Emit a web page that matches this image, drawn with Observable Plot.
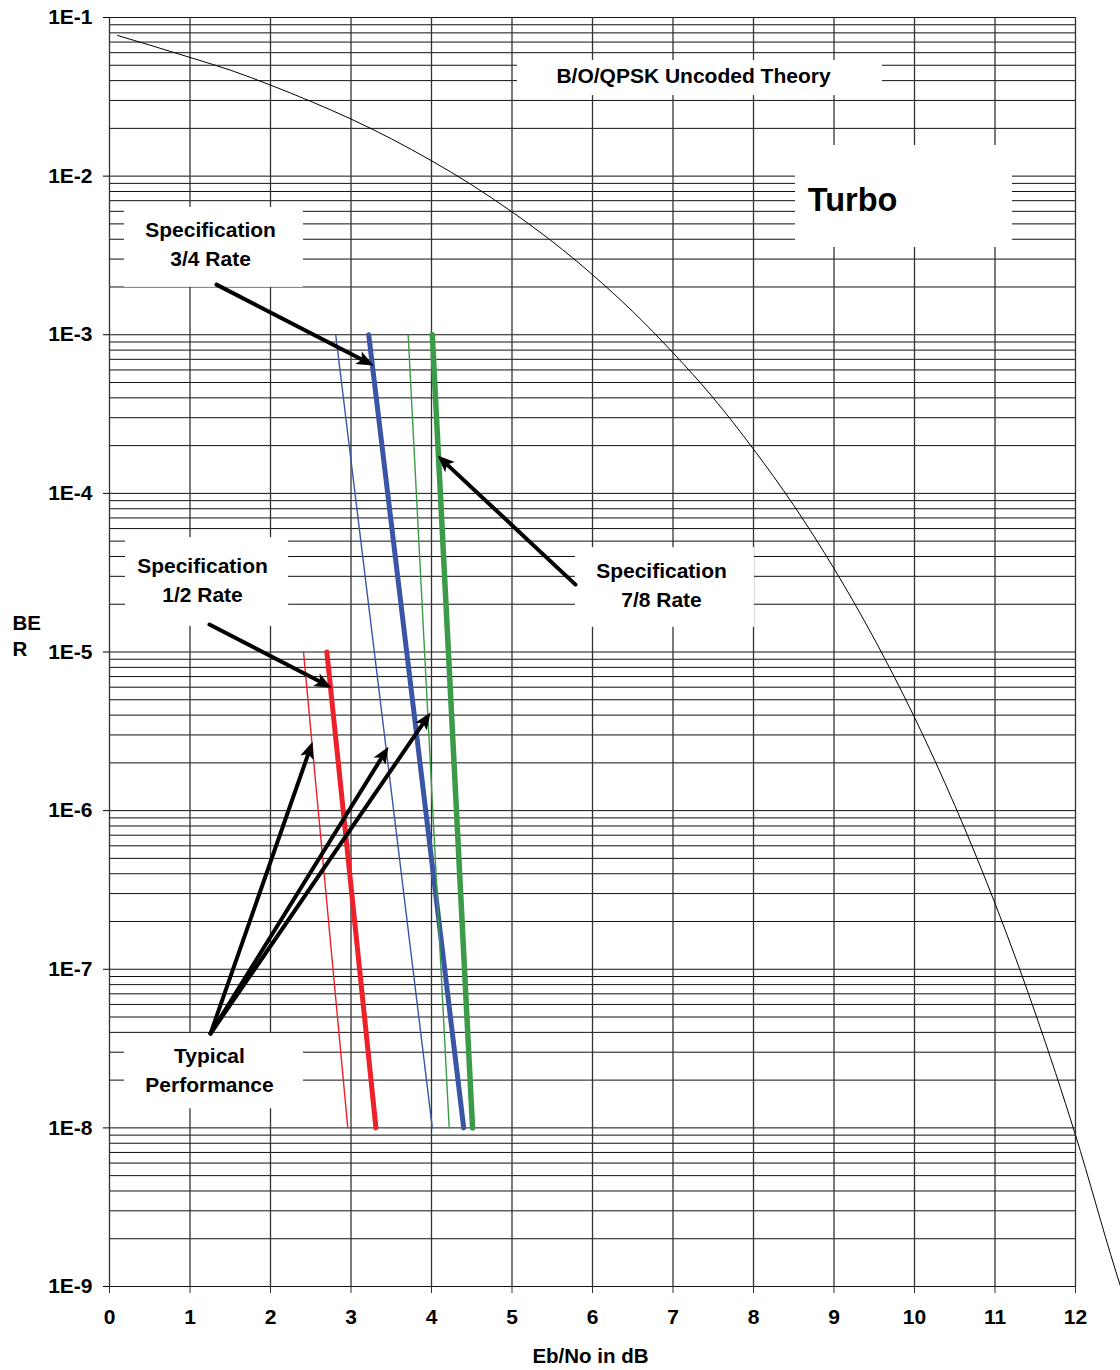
<!DOCTYPE html>
<html>
<head>
<meta charset="utf-8">
<script src="https://cdn.jsdelivr.net/npm/d3@7"></script>
<script src="https://cdn.jsdelivr.net/npm/@observablehq/plot@0.6"></script>
<style>
  html, body { margin: 0; padding: 0; background: #fff; }
  #chart svg { display: block; }
</style>
</head>
<body>
<div id="chart"></div>
<script>
// ---------- Data ----------
const xTicks = [0, 1, 2, 3, 4, 5, 6, 7, 8, 9, 10, 11, 12];
const decades = [1e-1, 1e-2, 1e-3, 1e-4, 1e-5, 1e-6, 1e-7, 1e-8, 1e-9];
const yTickLabels = ["1E-1", "1E-2", "1E-3", "1E-4", "1E-5", "1E-6", "1E-7", "1E-8", "1E-9"];

// B/O/QPSK uncoded theory curve
const theoryEbNo = [0.1, 0.5, 1, 1.5, 2, 2.5, 3, 3.5, 4, 4.5, 5, 5.5, 6, 6.5, 7, 7.5, 8, 8.5, 9, 9.5, 10, 10.5, 11, 11.5, 12, 12.5, 12.56];
const theoryBER  = [7.7e-2, 6.7e-2, 5.6e-2, 4.66e-2, 3.75e-2, 2.96e-2, 2.29e-2, 1.72e-2, 1.25e-2, 8.8e-3, 5.95e-3, 3.87e-3, 2.39e-3, 1.40e-3, 7.7e-4, 4.0e-4, 1.9e-4, 8.4e-5, 3.36e-5, 1.21e-5, 3.87e-6, 1.08e-6, 2.6e-7, 5.3e-8, 9.0e-9, 1.25e-9, 1.0e-9];

// Turbo curves (specification = thick, typical = thin)
const spec12EbNo = [2.70, 3.31];  const spec12BER = [1e-5, 1e-8];
const typ12EbNo  = [2.41, 2.96];  const typ12BER  = [1e-5, 1e-8];
const spec34EbNo = [3.22, 4.40];  const spec34BER = [1e-3, 1e-8];
const typ34EbNo  = [2.81, 4.01];  const typ34BER  = [1e-3, 1e-8];
const spec78EbNo = [4.01, 4.51];  const spec78BER = [1e-3, 1e-8];
const typ78EbNo  = [3.71, 4.22];  const typ78BER  = [1e-3, 1e-8];

// Annotation labels (anchor in data units)
const labelText = ["B/O/QPSK Uncoded Theory", "Turbo", "Specification\n3/4 Rate", "Specification\n1/2 Rate", "Specification\n7/8 Rate", "Typical\nPerformance"];
const labelX    = [7.255, 9.23, 1.255, 1.155, 6.857, 1.242];
const labelY    = [4.45e-2, 7.4e-3, 3.85e-3, 2.93e-5, 2.72e-5, 2.39e-8];
const labelSize = [21, 32.5, 21, 21, 21, 21];

// White label boxes (data units)
const boxX1 = [5.068, 8.522, 0.186, 0.199, 5.789, 0.186];
const boxX2 = [9.602, 11.217, 2.410, 2.224, 8.012, 2.410];
const boxY1 = [5.36e-2, 1.56e-2, 6.34e-3, 5.26e-5, 4.55e-5, 3.93e-8];
const boxY2 = [3.22e-2, 3.55e-3, 1.99e-3, 1.45e-5, 1.43e-5, 1.32e-8];

// Arrows (from -> tip, data units)
const arrowX1 = [1.329, 1.242, 5.789, 1.255, 1.255, 1.255];
const arrowY1 = [2.07e-3, 1.49e-5, 2.66e-5, 3.93e-8, 3.93e-8, 3.93e-8];
const arrowX2 = [3.280, 2.758, 4.075, 2.522, 3.466, 3.988];
const arrowY2 = [6.39e-4, 5.96e-6, 1.73e-4, 2.72e-6, 2.53e-6, 4.15e-6];

// ---------- Build tables ----------
const zip = (xs, ys) => xs.map((x, i) => ({x, y: ys[i]}));
const theory = zip(theoryEbNo, theoryBER);
const series = [
  {data: zip(typ12EbNo, typ12BER), color: "#EE2029", w: 1.4},
  {data: zip(spec12EbNo, spec12BER), color: "#EE2029", w: 5},
  {data: zip(typ34EbNo, typ34BER), color: "#3A55A5", w: 1.4},
  {data: zip(spec34EbNo, spec34BER), color: "#3A55A5", w: 5},
  {data: zip(typ78EbNo, typ78BER), color: "#3C9B49", w: 1.4},
  {data: zip(spec78EbNo, spec78BER), color: "#3C9B49", w: 5.5}
];
const labels = labelText.map((t, i) => ({text: t, x: labelX[i], y: labelY[i], size: labelSize[i]}));
const boxes = boxX1.map((x1, i) => ({x1, x2: boxX2[i], y1: boxY1[i], y2: boxY2[i]}));
const arrows = arrowX1.map((x1, i) => ({x1, y1: arrowY1[i], x2: arrowX2[i], y2: arrowY2[i]}));

const minorLines = [];
for (const d of decades) {
  minorLines.push(d);
  if (d < 1e-1) for (let k = 2; k <= 9; k++) minorLines.push(d * k);
}

const arrowHead = {
  draw(ctx) {
    ctx.moveTo(0, 0);
    ctx.lineTo(7, 17);
    ctx.lineTo(0, 13);
    ctx.lineTo(-7, 17);
    ctx.closePath();
  }
};

function build(shafts, heads) {
  return Plot.plot({
    width: 1120,
    height: 1370,
    marginTop: 17,
    marginBottom: 84,
    marginLeft: 109,
    marginRight: 45,
    style: {fontFamily: "'Liberation Sans', Arial, sans-serif", fontWeight: "bold", background: "#fff", color: "#000", overflow: "visible"},
    x: {domain: [0, 12], label: null},
    y: {type: "log", domain: [1e-9, 1e-1], label: null},
    marks: [
      Plot.ruleY(minorLines, {stroke: "#111", strokeWidth: 1}),
      Plot.ruleX(xTicks, {stroke: "#333", strokeWidth: 1.3}),
      Plot.rect(boxes, {x1: "x1", x2: "x2", y1: "y1", y2: "y2", fill: "#fff"}),
      Plot.axisY(decades, {tickSize: 6, tickPadding: 11, fontSize: 21, stroke: "#000",
        tickFormat: d => yTickLabels[decades.indexOf(d)], label: null}),
      Plot.axisX(xTicks, {tickSize: 7, tickPadding: 16, fontSize: 21, stroke: "#333", tickFormat: d => String(d), label: null}),
      Plot.line(theory, {x: "x", y: "y", stroke: "#000", strokeWidth: 1, curve: "monotone-x"}),
      ...series.map(s => Plot.line(s.data, {x: "x", y: "y", stroke: s.color, strokeWidth: s.w})),
      Plot.link(shafts, {x1: "x1", y1: "y1", x2: "x2", y2: "y2", stroke: "#000", strokeWidth: 4, strokeLinecap: "round"}),
      Plot.dot(heads, {x: "x", y: "y", rotate: "rotate", symbol: arrowHead, fill: "#000", stroke: "none", r: 5}),
      Plot.text(labels, {x: "x", y: "y", text: "text", fontSize: "size", lineHeight: 1.38, fill: "#000"}),
      Plot.text(["BE\nR"], {frameAnchor: "left", dx: -97, dy: -17, textAnchor: "start", lineHeight: 1.25, fontSize: 20.5, fill: "#000"}),
      Plot.text(["Eb/No in dB"], {frameAnchor: "bottom", dy: 76, dx: -2, fontSize: 20.5, fill: "#000"})
    ]
  });
}

const first = build([], []);
const sx = first.scale("x"), sy = first.scale("y");
const shafts = [], heads = [];
for (const a of arrows) {
  const px1 = sx.apply(a.x1), py1 = sy.apply(a.y1);
  const px2 = sx.apply(a.x2), py2 = sy.apply(a.y2);
  const ang = Math.atan2(py2 - py1, px2 - px1);
  const back = 11;
  const ex = px2 - Math.cos(ang) * back, ey = py2 - Math.sin(ang) * back;
  shafts.push({x1: a.x1, y1: a.y1, x2: sx.invert(ex), y2: sy.invert(ey)});
  heads.push({x: a.x2, y: a.y2, rotate: ang * 180 / Math.PI + 90});
}
document.getElementById("chart").appendChild(build(shafts, heads));
</script>
</body>
</html>
